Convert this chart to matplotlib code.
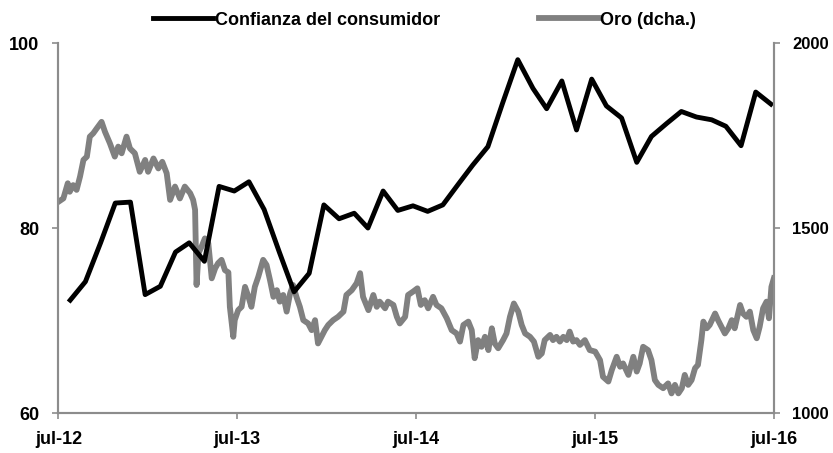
import matplotlib
matplotlib.use('Agg')
import matplotlib.pyplot as plt
import pandas as pd

plt.rcParams['font.family'] = ['Liberation Sans Narrow', 'Liberation Sans', 'DejaVu Sans']
plt.rcParams['font.weight'] = 'bold'

# Confianza del consumidor (mensual, ago-12 a jul-16)
confianza = [72.2, 74.2, 78.4, 82.7, 82.8, 72.8, 73.7, 77.4, 78.4, 76.4,
             84.5, 84.0, 85.0, 82.0, 77.4, 73.1, 75.1, 82.5, 81.0, 81.6,
             80.0, 84.0, 81.9, 82.4, 81.8, 82.5, 84.7, 86.8, 88.8, 93.5,
             98.2, 95.1, 92.9, 95.9, 90.6, 96.1, 93.2, 91.9, 87.1, 89.9,
             91.3, 92.6, 92.0, 91.7, 91.0, 88.9, 94.7, 93.4]

# Oro (USD/oz): dias desde el 1-jul-2012 y precio
oro_dias = [0, 10, 19, 23, 30, 37, 44, 51, 58, 64, 71, 78, 88, 95, 105, 115,
            122, 129, 139, 146, 156, 166, 177, 183, 194, 204, 212, 221, 228,
            238, 248, 258, 269, 275, 279, 282, 286, 292, 299, 306, 313, 320,
            326, 333, 340, 347, 350, 357, 360, 367, 374, 381, 388, 394, 401,
            408, 418, 425, 432, 439, 446, 452, 459, 466, 473, 479, 486, 493,
            500, 510, 517, 524, 530, 537, 544, 551, 561, 571, 582, 588, 599,
            609, 616, 622, 633, 643, 650, 656, 667, 673, 684, 691, 697, 708,
            714, 724, 733, 740, 748, 755, 765, 772, 782, 793, 803, 813, 820,
            827, 837, 844, 850, 857, 864, 871, 878, 885, 891, 898, 908, 915,
            922, 930, 939, 946, 953, 963, 971, 980, 987, 993, 1004, 1010, 1017,
            1024, 1031, 1038, 1044, 1051, 1058, 1065, 1075, 1085, 1096, 1102,
            1106, 1112, 1123, 1130, 1140, 1147, 1153, 1164, 1174, 1181, 1187,
            1194, 1204, 1211, 1218, 1225, 1235, 1245, 1252, 1259, 1266, 1273,
            1279, 1286, 1293, 1300, 1306, 1313, 1317, 1324, 1330, 1341, 1347,
            1354, 1361, 1368, 1375, 1381, 1392, 1398, 1405, 1412, 1419, 1426,
            1432, 1439, 1446, 1451, 1456, 1461]
oro = [1571, 1580, 1621, 1598, 1616, 1603, 1639, 1684, 1693, 1747, 1756, 1769,
       1787, 1760, 1729, 1693, 1720, 1702, 1747, 1715, 1702, 1652, 1684, 1652,
       1688, 1661, 1679, 1648, 1576, 1612, 1580, 1612, 1594, 1576, 1549, 1346,
       1432, 1449, 1472, 1459, 1364, 1391, 1405, 1414, 1386, 1380, 1287, 1206,
       1251, 1278, 1287, 1341, 1314, 1287, 1341, 1368, 1414, 1400, 1359, 1314,
       1332, 1301, 1319, 1274, 1323, 1346, 1314, 1287, 1251, 1242, 1224, 1251,
       1188, 1206, 1224, 1238, 1251, 1260, 1274, 1319, 1332, 1351, 1378, 1314,
       1278, 1319, 1287, 1301, 1283, 1301, 1292, 1260, 1242, 1260, 1319, 1328,
       1337, 1292, 1305, 1283, 1314, 1292, 1283, 1256, 1224, 1215, 1193, 1238,
       1247, 1224, 1148, 1197, 1179, 1206, 1170, 1229, 1188, 1175, 1197, 1215,
       1260, 1296, 1274, 1238, 1215, 1206, 1193, 1152, 1161, 1197, 1211, 1197,
       1206, 1193, 1206, 1197, 1220, 1193, 1197, 1184, 1197, 1170, 1166, 1152,
       1143, 1098, 1085, 1116, 1152, 1125, 1134, 1103, 1152, 1112, 1134, 1179,
       1170, 1143, 1089, 1076, 1067, 1080, 1053, 1076, 1053, 1067, 1103, 1076,
       1089, 1121, 1130, 1197, 1247, 1229, 1238, 1269, 1251, 1233, 1215, 1229,
       1251, 1229, 1292, 1269, 1260, 1274, 1224, 1202, 1233, 1283, 1301, 1256,
       1341, 1364]

inicio = pd.Timestamp('2012-07-01')
fechas_conf = pd.date_range('2012-07-01', periods=len(confianza), freq='MS') + pd.Timedelta(days=24)
fechas_oro = inicio + pd.to_timedelta(oro_dias, unit='D')
ticks_x = pd.date_range('2012-07-01', '2016-07-01', freq='12MS')
etiquetas_x = ['jul-12', 'jul-13', 'jul-14', 'jul-15', 'jul-16']

gris_eje = '#8c8c8c'

fig = plt.figure(figsize=(8.33, 4.53), dpi=100)
ax = fig.add_axes([0.0702, 0.0883, 0.8588, 0.8167])
ax2 = ax.twinx()

l2, = ax2.plot(fechas_oro, oro, color='#808080', lw=4.2, label='Oro (dcha.)')
l1, = ax.plot(fechas_conf, confianza, color='black', lw=3.5, label='Confianza del consumidor')

# linea negra por encima de la gris
ax.set_zorder(ax2.get_zorder() + 1)
ax.patch.set_visible(False)

ax.set_ylim(60, 100)
ax.set_yticks([60, 80, 100])
ax2.set_ylim(1000, 2000)
ax2.set_yticks([1000, 1500, 2000])
ax.set_xlim(ticks_x[0], ticks_x[-1])
ax.set_xticks(ticks_x)
ax.set_xticklabels(etiquetas_x)

for a in (ax, ax2):
    a.spines['top'].set_visible(False)
    for s in ('left', 'right', 'bottom'):
        a.spines[s].set_color(gris_eje)
        a.spines[s].set_linewidth(1.5)
    a.tick_params(axis='both', which='both', direction='out', length=4,
                  width=1.2, color=gris_eje, labelsize=13)
    for lab in a.get_xticklabels() + a.get_yticklabels():
        lab.set_fontweight('bold')

ax.tick_params(axis='x', pad=9)
ax.tick_params(axis='y', pad=10)
ax2.tick_params(axis='y', pad=9, labelsize=12)

fig.legend(handles=[l1, l2], loc='upper center', bbox_to_anchor=(0.51, 1.01),
           ncol=2, frameon=False, handlelength=3.3,
           handletextpad=0.1, columnspacing=5.5,
           prop={'weight': 'bold', 'size': 13})

fig.savefig('out.png', dpi=100)
